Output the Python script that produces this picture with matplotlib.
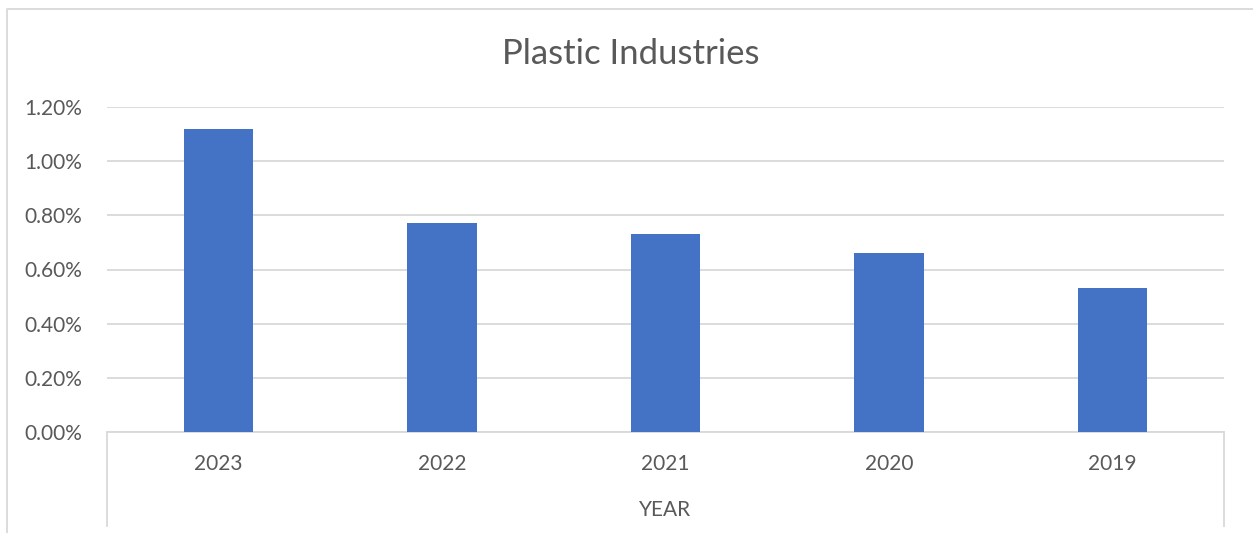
import matplotlib.pyplot as plt
from matplotlib.lines import Line2D
from matplotlib.ticker import FuncFormatter

years = ["2023", "2022", "2021", "2020", "2019"]
share = [1.12, 0.77, 0.73, 0.66, 0.53]  # percent
y_ticks = [0.0, 0.2, 0.4, 0.6, 0.8, 1.0, 1.2]

txt = "#595959"
grid = "#D9D9D9"
plt.rcParams['font.family'] = ['Lato', 'DejaVu Sans']

W, H = 1253, 533
fig = plt.figure(figsize=(W / 100, H / 100), dpi=100)
ax = fig.add_axes([107 / W, 1 - 432 / H, (1224 - 107) / W, (432 - 107) / H])

ax.bar(range(len(years)), share, width=0.31, color="#4472C4", zorder=3)
ax.set_xlim(-0.5, len(years) - 0.5)
ax.set_ylim(0, 1.2)
ax.set_yticks(y_ticks)
ax.yaxis.set_major_formatter(FuncFormatter(lambda v, p: "%.2f%%" % v))
ax.set_xticks(range(len(years)))
ax.set_xticklabels(years)
ax.grid(axis="y", color=grid, linewidth=1.3, zorder=0)
for s in ["top", "right", "left"]:
    ax.spines[s].set_visible(False)
ax.spines["bottom"].set_color(grid)
ax.spines["bottom"].set_linewidth(1.3)
ax.tick_params(axis="y", length=0, pad=18, labelsize=15, labelcolor=txt)
ax.tick_params(axis="x", length=0, pad=16, labelsize=15, labelcolor=txt)

# category bracket lines and outer chart border
for xp in (107, 1224):
    fig.add_artist(Line2D([xp / W, xp / W], [1 - 432 / H, 1 - 526 / H],
                          color=grid, linewidth=1.3))
fig.add_artist(Line2D([7 / W, 7 / W, 1.0], [0, 1 - 9 / H, 1 - 9 / H],
                      color=grid, linewidth=1.3))

fig.text((107 + 1224) / 2 / W, 1 - 510 / H, "YEAR", ha="center", va="center",
         fontsize=15, color=txt)
fig.text(631 / W, 1 - 54 / H, "Plastic Industries", ha="center",
         va="center", fontsize=25, color=txt)

fig.savefig("out.png", dpi=100)
